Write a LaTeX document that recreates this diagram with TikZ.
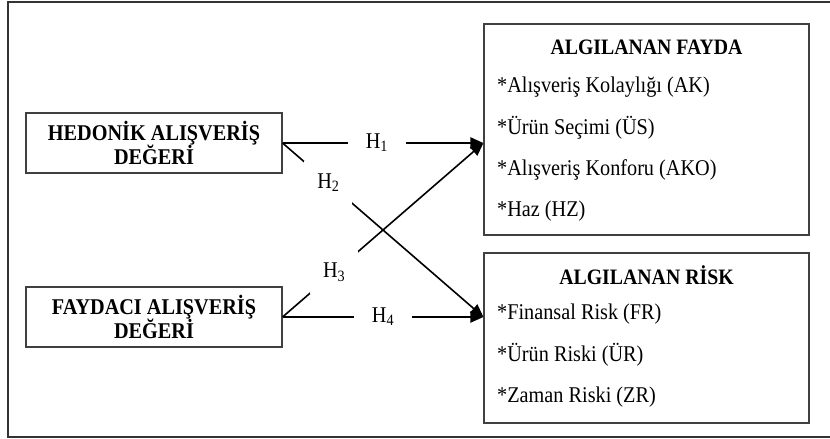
\documentclass[tikz,border=0pt]{standalone}
\usepackage{fontspec}
\setmainfont{Liberation Serif}[FakeStretch=0.9]
\usetikzlibrary{arrows.meta,calc}
\begin{document}
\begin{tikzpicture}[x=1pt,y=-1pt,
  box/.style={draw=black!75,line width=1.1pt,inner sep=0,minimum width=256pt,minimum height=60pt,align=center,font=\bfseries\fontsize{22.5}{24.5}\selectfont},
  panel/.style={draw=black!75,line width=1.1pt,inner sep=0,minimum width=325pt},
  head/.style={font=\bfseries\fontsize{22}{24}\selectfont,inner sep=0},
  item/.style={font=\fontsize{22.5}{24}\selectfont,inner sep=0,anchor=west},
  harr/.style={line width=2pt,-{Triangle[length=13pt,width=11pt]}},
  darr/.style={line width=1.6pt,-{Triangle[length=13pt,width=11pt]}},
  lab/.style={fill=white,inner sep=0,font=\fontsize{22.5}{24}\selectfont},
]
\useasboundingbox (0,0) rectangle (830,439);
% outer frame
\coordinate (ftr) at (830,2);
\coordinate (ftl) at (7.5,2);
\coordinate (fbl) at (7.5,437);
\coordinate (fbr) at (830,437);
\draw[black!80,line width=2pt] (ftr) -- (ftl) -- (fbl) -- (fbr);

% left boxes
\node[box] (hed) at (154,143) {HEDONİK ALIŞVERİŞ\\DEĞERİ};
\node[box] (fay) at (154,317) {FAYDACI ALIŞVERİŞ\\DEĞERİ};

% right panels
\node[panel,minimum height=211pt] (fayda) at (646.5,129.5) {};
\node[panel,minimum height=170pt] (risk) at (646.5,338) {};

\node[head] (t1) at (646.5,47) {ALGILANAN FAYDA};
\node[item] (a1) at (497,87) {*Alışveriş Kolaylığı (AK)};
\node[item] (a2) at (497,128) {*Ürün Seçimi (ÜS)};
\node[item] (a3) at (497,170) {*Alışveriş Konforu (AKO)};
\node[item] (a4) at (497,211) {*Haz (HZ)};

\node[head] (t2) at (646.5,275) {ALGILANAN RİSK};
\node[item] (b1) at (497,314) {*Finansal Risk (FR)};
\node[item] (b2) at (497,355) {*Ürün Riski (ÜR)};
\node[item] (b3) at (497,397) {*Zaman Riski (ZR)};

% arrow targets
\coordinate (inF) at (fayda.west |- hed.east);
\coordinate (inR) at (risk.west |- fay.east);

\draw[harr] (hed.east) -- node[lab,pos=0.47,minimum width=58pt,minimum height=22pt] {H\textsubscript{1}} (inF);
\draw[darr] (hed.east) -- node[lab,pos=0.228,minimum width=48pt,minimum height=44pt] {H\textsubscript{2}} (inR);
\draw[darr] (fay.east) -- node[lab,pos=0.257,minimum width=48pt,minimum height=44pt] {H\textsubscript{3}} (inF);
\draw[harr] (fay.east) -- node[lab,pos=0.5,minimum width=58pt,minimum height=22pt] {H\textsubscript{4}} (inR);
\end{tikzpicture}
\end{document}
